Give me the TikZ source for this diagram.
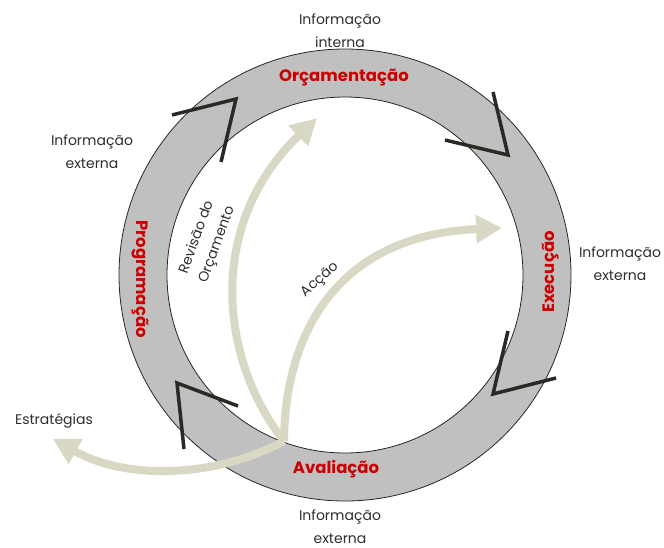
\documentclass[tikz,border=0pt]{standalone}
\usepackage{fontspec}
\setmainfont{Poppins}
\usetikzlibrary{arrows.meta}
\definecolor{ringgray}{HTML}{C0C0C0}
\definecolor{beige}{HTML}{D9D8C4}
\definecolor{chev}{HTML}{2A2923}
\definecolor{phasered}{HTML}{CC0000}
\definecolor{txt}{HTML}{2E2E2E}
\tikzset{
  phase/.style={text=phasered, font=\fontsize{16.5}{19}\selectfont\bfseries, inner sep=0pt},
  info/.style={text=txt, font=\fontsize{14}{23}\selectfont, align=center, inner sep=0pt},
  inlabel/.style={text=txt, font=\fontsize{14}{21.5}\selectfont, align=center, inner sep=0pt},
  chevron/.style={draw=chev, line width=3.5pt, miter limit=10},
  flow/.style={draw=beige, line width=8pt, -{Triangle[length=26pt,width=27pt]}},
}
\begin{document}
\begin{tikzpicture}[x=1pt,y=-1pt]
\useasboundingbox (0,0) rectangle (664,547);
\coordinate (c) at (345,275);
% ring
\fill[ringgray, even odd rule] (c) circle[radius=226] (c) circle[radius=178];
\draw[line width=0.8pt, black!85] (c) circle[radius=226];
\draw[line width=0.8pt, black!85] (c) circle[radius=178];
% flow arrows
\coordinate (s) at (284,441);
\coordinate (revEnd) at (317,118);
\coordinate (accEnd) at (502,228);
\coordinate (estEnd) at (53,439);
\draw[flow] (s) .. controls (220,360) and (205,225) .. (revEnd);
\draw[flow] (s) .. controls (285,330) and (340,235) .. (accEnd);
\draw[flow] (s) .. controls (220,476) and (130,482) .. (estEnd);
% chevrons
\coordinate (a1) at (172,115); \coordinate (p1) at (236,99); \coordinate (b1) at (221,162);
\coordinate (a2) at (493,92); \coordinate (p2) at (508,155); \coordinate (b2) at (445,140);
\coordinate (a3) at (508,331); \coordinate (p3) at (493,394); \coordinate (b3) at (556,378);
\coordinate (a4) at (238,406); \coordinate (p4) at (177,383); \coordinate (b4) at (184,449);
\draw[chevron] (a1) -- (p1) -- (b1);
\draw[chevron] (a2) -- (p2) -- (b2);
\draw[chevron] (a3) -- (p3) -- (b3);
\draw[chevron] (a4) -- (p4) -- (b4);
% phase labels
\node[phase] (orc) at (344,78) {Orçamentação};
\node[phase, rotate=90] (exe) at (551,272) {Execução};
\node[phase] (ava) at (336,469) {Avaliação};
\node[phase, rotate=-90] (pro) at (140,279) {Programação};
% information labels
\node[info] (iint) at (340,31) {Informação\\interna};
\node[info] (iextl) at (92,152) {Informação\\externa};
\node[info] (iextr) at (620,264) {Informação\\externa};
\node[info] (iextb) at (340,527) {Informação\\externa};
\node[info] (estr) at (54,421) {Estratégias};
% inner labels
\node[inlabel, rotate=70] (rev) at (207,241) {Revisão do\\Orçamento};
\node[inlabel, rotate=41] (acc) at (320,280) {Acção};
\end{tikzpicture}
\end{document}
